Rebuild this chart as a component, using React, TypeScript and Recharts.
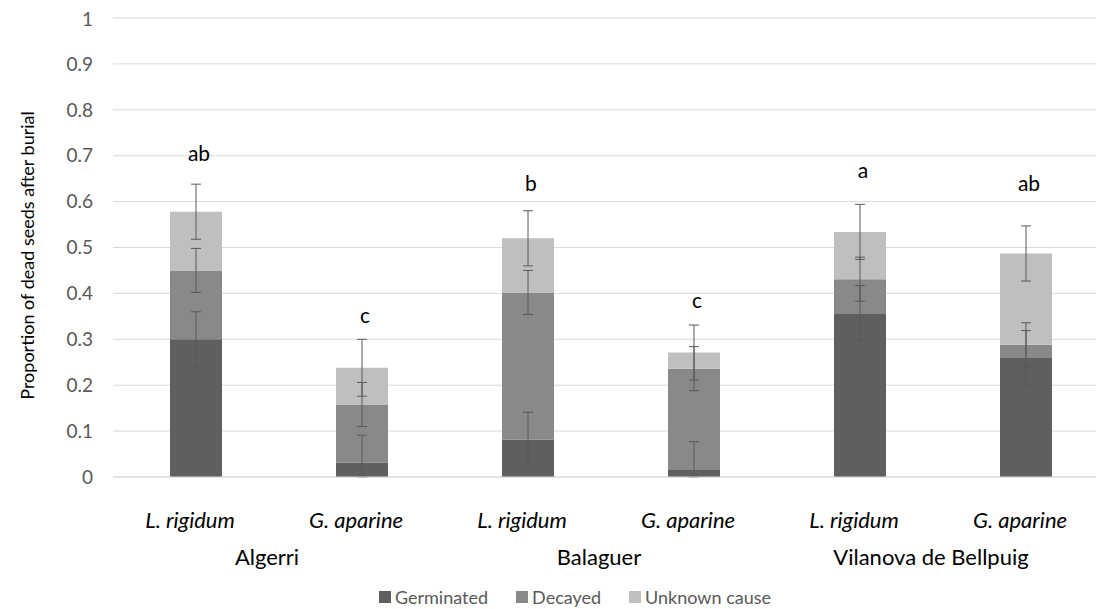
import React from 'react';
import { ComposedChart, Bar, XAxis, YAxis, CartesianGrid, ErrorBar, Scatter, Legend } from 'recharts';

const keys = ['A-L', 'A-G', 'B-L', 'B-G', 'V-L', 'V-G'];
const species = ['L. rigidum', 'G. aparine', 'L. rigidum', 'G. aparine', 'L. rigidum', 'G. aparine'];
const sites = ['Algerri', 'Algerri', 'Balaguer', 'Balaguer', 'Vilanova de Bellpuig', 'Vilanova de Bellpuig'];

const germinated = [0.300, 0.031, 0.081, 0.017, 0.357, 0.259];
const decayed = [0.150, 0.127, 0.321, 0.219, 0.074, 0.029];
const unknown = [0.128, 0.080, 0.118, 0.035, 0.103, 0.199];

// error bars: [below, above]
const germinatedErr = [[0.06, 0.06], [0.031, 0.06], [0.06, 0.06], [0.017, 0.06], [0.06, 0.06], [0.06, 0.06]];
const decayedErr = [[0.048, 0.048], [0.048, 0.048], [0.048, 0.048], [0.048, 0.048], [0.048, 0.048], [0.048, 0.048]];
const unknownErr = [[0.06, 0.06], [0.062, 0.062], [0.06, 0.06], [0.06, 0.06], [0.06, 0.06], [0.06, 0.06]];

const letters = ['ab', 'c', 'b', 'c', 'a', 'ab'];
const letterY = [0.706, 0.355, 0.641, 0.386, 0.669, 0.641];

const yTicks = [0, 0.1, 0.2, 0.3, 0.4, 0.5, 0.6, 0.7, 0.8, 0.9, 1];

const data = keys.map((k, i) => ({
  key: k,
  species: species[i],
  site: sites[i],
  germinated: germinated[i],
  decayed: decayed[i],
  unknown: unknown[i],
  germinatedErr: germinatedErr[i],
  decayedErr: decayedErr[i],
  unknownErr: unknownErr[i],
  letter: letters[i],
  letterY: letterY[i],
}));

const FONT = 'Lato, "Open Sans", sans-serif';
const CHART_W = 1101;
const CHART_H = 601;
const Y_AXIS_W = 105;
const BAND = (CHART_W - Y_AXIS_W) / keys.length;

const COLORS = { germinated: '#5f5f5f', decayed: '#898989', unknown: '#bfbfbf' };

const SpeciesTick = (props: any) => {
  const { x, y, payload } = props;
  return (
    <text x={x - 6} y={y + 34} textAnchor="middle" dominantBaseline="central" fontFamily={FONT} fontSize={22} fontStyle="italic" fill="#000">
      {species[payload.index]}
    </text>
  );
};

const SiteTick = (props: any) => {
  const { x, y, payload } = props;
  if (payload.index % 2 !== 0) return null;
  return (
    <text x={x + BAND / 2 - 12} y={y + 9} textAnchor="middle" dominantBaseline="central" fontFamily={FONT} fontSize={22} fill="#000">
      {sites[payload.index]}
    </text>
  );
};

const LetterShape = (props: any) => {
  const { cx, cy, payload } = props;
  return (
    <text x={cx + 3} y={cy} textAnchor="middle" dominantBaseline="central" fontFamily={FONT} fontSize={21} fill="#000">
      {payload.letter}
    </text>
  );
};

const legendItems = [
  { label: 'Germinated', color: COLORS.germinated },
  { label: 'Decayed', color: COLORS.decayed },
  { label: 'Unknown cause', color: COLORS.unknown },
];

const LegendContent = () => (
  <div style={{ display: 'flex', justifyContent: 'center', alignItems: 'center', height: 25, paddingLeft: 33, fontFamily: FONT, fontSize: 18, color: '#595959' }}>
    {legendItems.map((it) => (
      <div key={it.label} style={{ display: 'flex', alignItems: 'center', margin: '0 14px' }}>
        <span style={{ display: 'inline-block', width: 12, height: 12, background: it.color, marginRight: 4 }} />
        <span>{it.label}</span>
      </div>
    ))}
  </div>
);

const YLabel = (props: any) => {
  const { viewBox } = props;
  const cx = 19;
  const cy = viewBox.y + viewBox.height / 2 + 8;
  return (
    <text x={cx} y={cy} transform={`rotate(-90 ${cx} ${cy})`} textAnchor="middle" dominantBaseline="central" fontFamily={FONT} fontSize={18} fill="#000">
      Proportion of dead seeds after burial
    </text>
  );
};

export default function App() {
  return (
    <div style={{ width: 1096, overflow: 'hidden' }}>
      <ComposedChart width={CHART_W} height={CHART_H} data={data} margin={{ top: 10, right: 0, bottom: 0, left: 0 }}>
        <CartesianGrid vertical={false} stroke="#d9d9d9" xAxisId="a-sp" />
        <XAxis xAxisId="a-sp" dataKey="key" height={62} tick={<SpeciesTick />} tickLine={false} axisLine={{ stroke: '#d9d9d9' }} interval={0} />
        <XAxis xAxisId="b-site" dataKey="key" height={45} tick={<SiteTick />} tickLine={false} axisLine={false} interval={0} />
        <YAxis
          width={Y_AXIS_W}
          domain={[0, 1]}
          ticks={yTicks}
          tickLine={false}
          axisLine={false}
          tickMargin={14}
          tick={{ fill: '#595959', fontSize: 19, fontFamily: FONT }}
          label={{ content: <YLabel /> }}
        />
        <Legend verticalAlign="bottom" content={<LegendContent />} />
        <Bar xAxisId="a-sp" dataKey="germinated" stackId="s" fill={COLORS.germinated} barSize={52} isAnimationActive={false}>
          <ErrorBar dataKey="germinatedErr" width={5} stroke="#595959" strokeWidth={1} direction="y" />
        </Bar>
        <Bar xAxisId="a-sp" dataKey="decayed" stackId="s" fill={COLORS.decayed} barSize={52} isAnimationActive={false}>
          <ErrorBar dataKey="decayedErr" width={5} stroke="#595959" strokeWidth={1} direction="y" />
        </Bar>
        <Bar xAxisId="a-sp" dataKey="unknown" stackId="s" fill={COLORS.unknown} barSize={52} isAnimationActive={false}>
          <ErrorBar dataKey="unknownErr" width={5} stroke="#595959" strokeWidth={1} direction="y" />
        </Bar>
        <Scatter xAxisId="a-sp" dataKey="letterY" shape={<LetterShape />} isAnimationActive={false} legendType="none" />
      </ComposedChart>
    </div>
  );
}
